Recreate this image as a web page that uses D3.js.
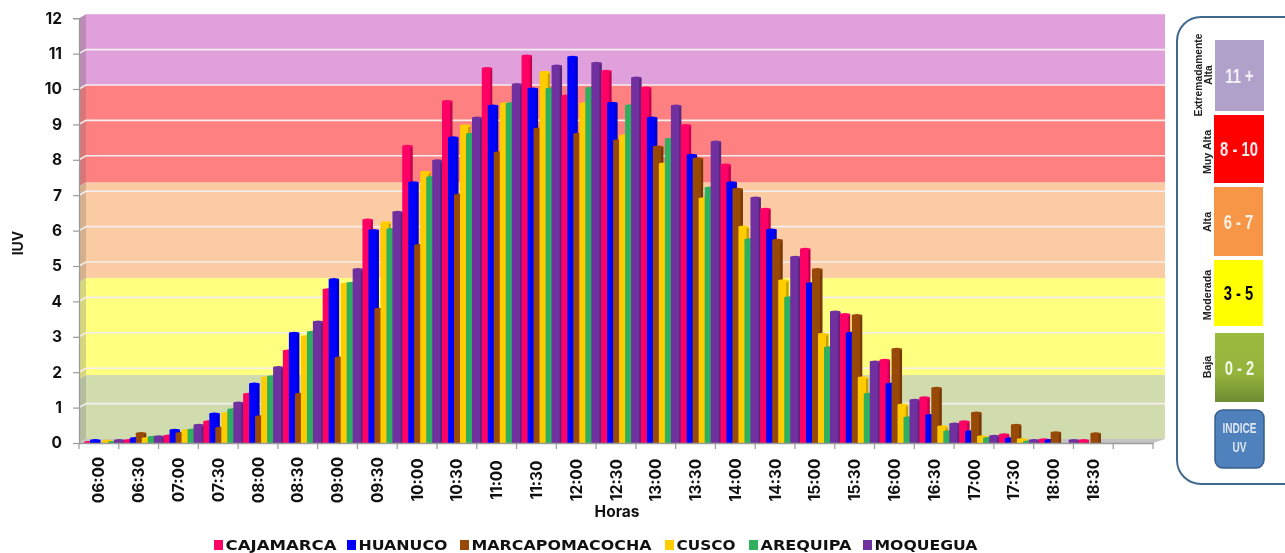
<!DOCTYPE html>
<html><head><meta charset="utf-8">
<script src="https://cdn.jsdelivr.net/npm/d3@7"></script>
<style>html,body{margin:0;padding:0;background:#fff;overflow:hidden}svg{display:block;filter:blur(.45px)}text{font-family:Inter,"DejaVu Sans",sans-serif}</style>
</head><body><svg id="c" width="1285" height="553"></svg>
<script>
const hours=["06:00","06:30","07:00","07:30","08:00","08:30","09:00","09:30","10:00","10:30","11:00","11:30","12:00","12:30","13:00","13:30","14:00","14:30","15:00","15:30","16:00","16:30","17:00","17:30","18:00","18:30"," "];
const seriesNames=["CAJAMARCA","HUANUCO","MARCAPOMACOCHA","CUSCO","AREQUIPA","MOQUEGUA"];
const seriesColors=["#FF0066","#0000FF","#984807","#FFCC00","#2EB05F","#7030A0"];
const cajamarca=[0.02,0.07,0.2,0.6,1.38,2.6,4.33,6.3,8.38,9.65,10.58,10.93,9.8,10.5,10.03,8.97,7.85,6.6,5.47,3.63,2.34,1.28,0.6,0.23,0.09,0.07];
const huanuco=[0.07,0.13,0.36,0.82,1.67,3.1,4.62,6.0,7.35,8.62,9.52,10.0,10.9,9.6,9.18,8.13,7.35,6.02,4.5,3.1,1.66,0.78,0.32,0.12,0.07,0];
const marcapomacocha=[0,0.27,0.27,0.42,0.74,1.38,2.4,3.78,5.58,7.0,8.2,8.87,8.72,8.54,8.36,8.03,7.17,5.73,4.9,3.6,2.65,1.55,0.85,0.5,0.29,0.26];
const cusco=[0.06,0.13,0.35,0.83,1.84,3.0,4.49,6.22,7.65,8.96,9.58,10.47,9.58,8.68,7.88,6.9,6.1,4.58,3.07,1.84,1.07,0.46,0.18,0.1,0,0];
const arequipa=[0.02,0.16,0.37,0.94,1.87,3.13,4.51,6.03,7.5,8.72,9.58,10.0,10.02,9.53,8.58,7.2,5.74,4.1,2.69,1.38,0.71,0.32,0.13,0.03,0,0];
const moquegua=[0.07,0.18,0.5,1.13,2.13,3.42,4.9,6.52,7.97,9.18,10.13,10.65,10.73,10.31,9.52,8.5,6.92,5.25,3.7,2.29,1.21,0.54,0.19,0.07,0.07,0];
const seriesValues=[cajamarca,huanuco,marcapomacocha,cusco,arequipa,moquegua];
const yTicks=[0,1,2,3,4,5,6,7,8,9,10,11,12];
const bandEdges=[0,1.81,4.55,7.25,10,12];
const bandColors=["#D0DCAE","#FFFF80","#FBCBA3","#FF8080","#E0A0DC"];
const wallColors=["#B4BDA0","#D6D67E","#D4B08F","#D67878","#BC8CB8"];
const scaleBoxes=[
 {lab:["Extremadamente","Alta"],txt:"11 +",fill:"#AFA1C9",tc:"#F4F0F8"},
 {lab:["Muy Alta"],txt:"8 - 10",fill:"#FF0000",tc:"#FBEDED"},
 {lab:["Alta"],txt:"6 - 7",fill:"#F79646",tc:"#FDF2E6"},
 {lab:["Moderada"],txt:"3 - 5",fill:"#FFFF00",tc:"#000"},
 {lab:["Baja"],txt:"0 - 2",fill:"url(#gGreen)",tc:"#F4F7E8"}];
const boxGeo=[[1215,40,49,71,75],[1214,115,50,68,152],[1214,187,49,69,222],[1214,260,49,66,295],[1215,333,49,69,367]];

const svg=d3.select("#c"), defs=svg.append("defs");
const L=79,R=1153,Y0=443,dx=7,dy=4;
const x=d3.scaleBand().domain(hours).range([L,R]);
const s=d3.scaleBand().domain(seriesNames).range([5,41]);
const y=d3.scaleLinear().domain([0,12]).range([Y0,Y0-424.8]);
const barW=10.5;

const wall=svg.append("g");
wall.selectAll("rect.band").data(bandColors).join("rect").attr("class","band")
 .attr("x",L+dx).attr("width",R+12-L-dx)
 .attr("y",(d,i)=>y(bandEdges[i+1])-dy).attr("height",(d,i)=>y(bandEdges[i])-y(bandEdges[i+1]))
 .attr("fill",d=>d);
wall.selectAll("path.side").data(wallColors).join("path").attr("class","side")
 .attr("d",(d,i)=>{const a=y(bandEdges[i]),b=y(bandEdges[i+1]);return `M${L},${a}L${L+dx},${a-dy}L${L+dx},${b-dy}L${L},${b}Z`})
 .attr("fill",d=>d);
wall.append("path").attr("d",`M${L},${Y0}L${L+dx},${Y0-dy}H${R+12}L${R},${Y0}Z`).attr("fill","#C4C4C4");
wall.selectAll("path.grid").data(yTicks.slice(1,-1)).join("path").attr("class","grid")
 .attr("d",d=>`M${L},${y(d)}L${L+dx},${y(d)-dy}H${R+12}`).attr("fill","none").attr("stroke","#F3EFEF").attr("stroke-width",1.6);

seriesColors.forEach((c,i)=>{
 const g=defs.append("linearGradient").attr("id","b"+i);
 const dk=d3.color(c).darker(.7).formatHex();
 [[0,c],[.74,c],[.8,dk],[1,dk]].forEach(([o,col])=>g.append("stop").attr("offset",o).attr("stop-color",col));
});
const gg=defs.append("linearGradient").attr("id","gGreen").attr("x2",0).attr("y2",1);
gg.append("stop").attr("offset",0).attr("stop-color","#9BBB3F");
gg.append("stop").attr("offset",.6).attr("stop-color","#93B33C");
gg.append("stop").attr("offset",1).attr("stop-color","#6F8C34");
const barsG=svg.append("g");
hours.slice(0,-1).forEach((h,hi)=>{
 seriesNames.forEach((n,si)=>{
  const v=seriesValues[si][hi]; if(!v) return;
  const bx=x(h)+s(n), top=y(v);
  barsG.append("rect").attr("x",bx).attr("y",top).attr("width",barW).attr("height",Y0-top).attr("fill",`url(#b${si})`);
  barsG.append("ellipse").attr("cx",bx+barW/2).attr("cy",top).attr("rx",barW/2).attr("ry",Math.min(1.5,(Y0-top)+.6)).attr("fill",seriesColors[si]);
 });
});

const axisCol="#9A9A9A";
const ax=svg.append("g").attr("transform",`translate(0,${Y0})`).call(d3.axisBottom(x).tickSize(0).tickFormat(d=>d));
ax.select(".domain").attr("stroke",axisCol).attr("stroke-width",1.4);
ax.selectAll("text").attr("transform","translate(0,37) rotate(-90)").attr("dy",".36em").attr("y",0)
 .attr("text-anchor","middle").attr("font-size",15.5).attr("font-weight",700).attr("fill","#111");
svg.append("g").selectAll("line").data(d3.range(hours.length+1)).join("line")
 .attr("x1",d=>L+d*x.step()).attr("x2",d=>L+d*x.step()).attr("y1",Y0).attr("y2",Y0+6).attr("stroke",axisCol).attr("stroke-width",1.2);
const ay=svg.append("g").attr("transform",`translate(${L},0)`).call(d3.axisLeft(y).tickValues(yTicks).tickSize(6).tickPadding(11).tickFormat(d3.format("d")));
ay.select(".domain").attr("stroke",axisCol).attr("stroke-width",1.2);
ay.selectAll("line").attr("stroke",axisCol).attr("stroke-width",1.2);
ay.selectAll("text").attr("font-size",15.5).attr("font-weight",700).attr("fill","#111").attr("font-family",'Inter,sans-serif');

svg.append("text").attr("x",617).attr("y",517).attr("text-anchor","middle").attr("font-size",15.5).attr("font-weight",700).attr("fill","#111").text("Horas");
svg.append("text").attr("transform","translate(23,243) rotate(-90)").attr("text-anchor","middle").attr("font-size",14).attr("font-weight",700).attr("fill","#111").text("IUV");

const legX=[214,347,460,665,749,863], legW=[111,89,180,59,91,103];
const leg=svg.append("g").selectAll("g").data(seriesNames).join("g").attr("transform",(d,i)=>`translate(${legX[i]},545)`);
leg.append("rect").attr("y",-5).attr("width",9).attr("height",10).attr("fill",(d,i)=>seriesColors[i]);
leg.append("text").attr("x",11.5).attr("y",4.8).style("font-family",'"DejaVu Sans",sans-serif').attr("font-size",14).attr("font-weight",700).attr("fill","#111")
 .attr("textLength",(d,i)=>legW[i]).attr("lengthAdjust","spacingAndGlyphs").text(d=>d);

const P=svg.append("g");
P.append("rect").attr("x",1177).attr("y",17).attr("width",140).attr("height",467).attr("rx",24).attr("fill","#fff").attr("stroke","#41698F").attr("stroke-width",2);
const sans='"Liberation Sans",sans-serif';
const bx=P.selectAll("g").data(scaleBoxes).join("g");
bx.append("rect").attr("x",(d,i)=>boxGeo[i][0]).attr("y",(d,i)=>boxGeo[i][1]).attr("width",(d,i)=>boxGeo[i][2]).attr("height",(d,i)=>boxGeo[i][3]).attr("fill",d=>d.fill);
bx.append("text").attr("transform",(d,i)=>`translate(${boxGeo[i][0]+boxGeo[i][2]/2},${boxGeo[i][1]+boxGeo[i][3]/2+7}) scale(.74,1)`)
 .attr("text-anchor","middle").attr("font-size",20).attr("font-weight",700).style("font-family",sans).attr("fill",d=>d.tc).text(d=>d.txt);
bx.each(function(d,i){
 const g=d3.select(this), n=d.lab.length;
 d.lab.forEach((t,k)=>{
  const tx=n>1?(1198+k*10):1207;
  g.append("text").attr("transform",`translate(${tx+3.5},${boxGeo[i][4]}) rotate(-90)`).attr("text-anchor","middle")
   .attr("font-size",n>1?10.3:10.7).attr("font-weight",700).style("font-family",sans).attr("fill","#222").text(t);
 });
});
P.append("rect").attr("x",1215).attr("y",410).attr("width",49).attr("height",58).attr("rx",8).attr("fill","#4F81BD").attr("stroke","#385D8A").attr("stroke-width",1.5);
P.selectAll("text.iu").data(["INDICE","UV"]).join("text").attr("class","iu").attr("transform",(d,i)=>`translate(1239.5,${433+i*19}) scale(.72,1)`)
 .attr("text-anchor","middle").attr("font-size",14).attr("font-weight",700).style("font-family",sans).attr("fill","#DDE6F2").text(d=>d);
</script></body></html>
